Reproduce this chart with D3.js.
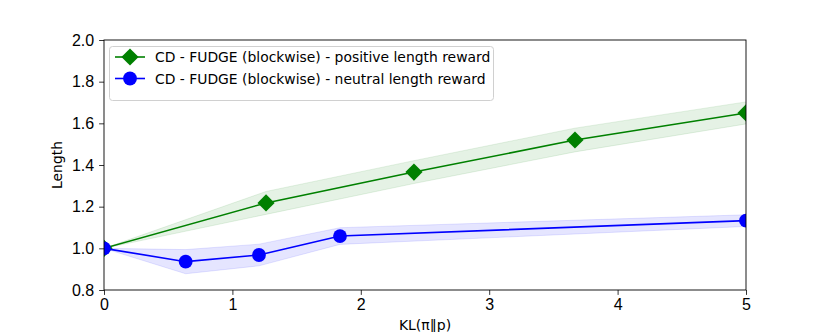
<!DOCTYPE html>
<html lang="en">
<head>
<meta charset="UTF-8">
<title>Length vs KL</title>
<script src="https://d3js.org/d3.v7.min.js"></script>
<style>
  body{margin:0;background:#fff}
  svg{display:block;font-family:"DejaVu Sans",sans-serif}
  .tick text{font-size:16px;fill:#000}
  .tick line{stroke:#000;stroke-width:0.8px}
  .xlab{font-size:14px;fill:#000}
  .ylab{font-size:13.9px;fill:#000}
  .legtxt{font-size:13.9px;fill:#000}
</style>
</head>
<body>
<div id="chart"></div>
<script>
/* --- data --- */
const posKL   =[0,1.262,2.414,3.668,5.0];
const posLen  =[1.0,1.218,1.366,1.52,1.65];
const posErr  =[0,0.055,0.055,0.057,0.053];
const neuKL   =[0,0.636,1.207,1.838,5.0];
const neuLen  =[1.0,0.936,0.968,1.059,1.133];
const neuErr  =[0,0.058,0.052,0.04,0.028];
const xTicks  =[0,1,2,3,4,5];
const yTicks  =[0.8,1.0,1.2,1.4,1.6,1.8,2.0];
const seriesNames=["CD - FUDGE (blockwise) - positive length reward",
                   "CD - FUDGE (blockwise) - neutral length reward"];

const W=830,H=332,m={l:104,r:84,t:40,b:42};
const svg=d3.select("#chart").append("svg").attr("width",W).attr("height",H);
const x=d3.scaleLinear().domain([0,5]).range([m.l,W-m.r]);
const y=d3.scaleLinear().domain([0.8,2.0]).range([H-m.b,m.t]);

svg.append("clipPath").attr("id","clip").append("rect")
   .attr("x",m.l).attr("y",m.t).attr("width",W-m.l-m.r).attr("height",H-m.t-m.b);

/* --- axes --- */
const gx=svg.append("g").attr("transform",`translate(0,${H-m.b})`)
  .call(d3.axisBottom(x).tickValues(xTicks).tickFormat(d3.format("d")).tickSize(4.9).tickPadding(3.5));
const gy=svg.append("g").attr("transform",`translate(${m.l},0)`)
  .call(d3.axisLeft(y).tickValues(yTicks).tickFormat(d3.format(".1f")).tickSize(4.9).tickPadding(4.9));
[gx,gy].forEach(g=>g.select(".domain").remove());

const series=[
  {kl:posKL,len:posLen,err:posErr,col:"#008000",band:"rgba(0,128,0,0.1)",mk:"diamond"},
  {kl:neuKL,len:neuLen,err:neuErr,col:"#0000ff",band:"rgba(0,0,255,0.1)",mk:"circle"}
];
const plot=svg.append("g").attr("clip-path","url(#clip)");

function marker(g,type,cx,cy,col){
  if(type==="diamond"){
    const s=8.6;
    g.append("path").attr("d",`M${cx},${cy-s}L${cx+s},${cy}L${cx},${cy+s}L${cx-s},${cy}Z`).attr("fill",col);
  }else{
    g.append("circle").attr("cx",cx).attr("cy",cy).attr("r",6.9).attr("fill",col);
  }
}

series.forEach(s=>{
  const pts=s.kl.map((k,i)=>({k,v:s.len[i],e:s.err[i]}));
  plot.append("path").datum(pts)
    .attr("d",d3.area().x(d=>x(d.k)).y0(d=>y(d.v-d.e)).y1(d=>y(d.v+d.e)))
    .attr("fill",s.band).attr("stroke",s.band).attr("stroke-width",1);
});
series.forEach(s=>{
  const pts=s.kl.map((k,i)=>({k,v:s.len[i]}));
  plot.append("path").datum(pts)
    .attr("d",d3.line().x(d=>x(d.k)).y(d=>y(d.v)))
    .attr("fill","none").attr("stroke",s.col).attr("stroke-width",1.6);
  pts.forEach(d=>marker(plot,s.mk,x(d.k),y(d.v),s.col));
});

/* --- frame --- */
svg.append("rect").attr("x",m.l).attr("y",m.t)
   .attr("width",W-m.l-m.r).attr("height",H-m.t-m.b)
   .attr("fill","none").attr("stroke","#000").attr("stroke-width",0.9);

/* --- labels --- */
svg.append("text").attr("class","xlab").attr("text-anchor","middle")
   .attr("x",(m.l+W-m.r)/2).attr("y",330).text("KL(π\u2016p)");
svg.append("text").attr("class","ylab").attr("text-anchor","middle")
   .attr("transform",`translate(62,${(m.t+H-m.b)/2}) rotate(-90)`).text("Length");

/* --- legend --- */
const lg=svg.append("g");
lg.append("rect").attr("x",109.5).attr("y",46.5).attr("width",384).attr("height",54).attr("rx",3)
  .attr("fill","rgba(255,255,255,0.8)").attr("stroke","#d0d0d0").attr("stroke-width",1);
series.forEach((s,i)=>{
  const yy=57+i*21.5;
  lg.append("line").attr("x1",115).attr("x2",145).attr("y1",yy).attr("y2",yy)
    .attr("stroke",s.col).attr("stroke-width",1.6);
  marker(lg,s.mk,130,yy,s.col);
  lg.append("text").attr("class","legtxt").attr("x",155).attr("y",yy+5).text(seriesNames[i]);
});
</script>
</body>
</html>
